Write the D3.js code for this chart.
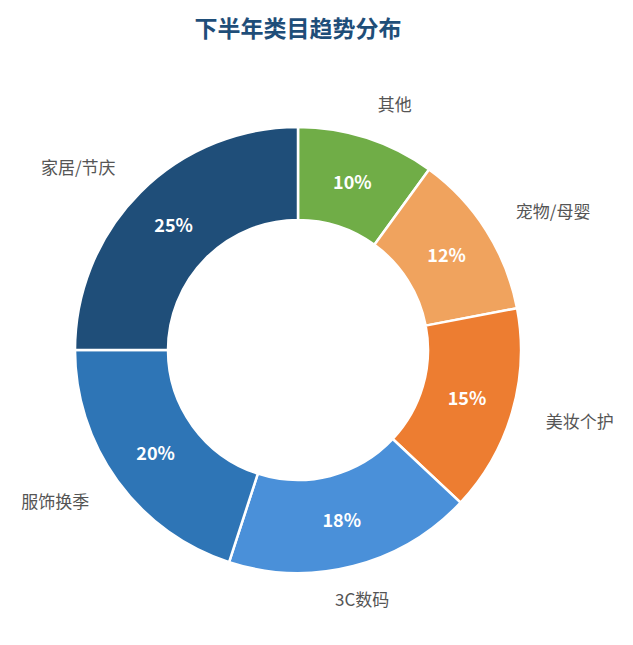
<!DOCTYPE html>
<html><head><meta charset="utf-8">
<script src="https://cdn.jsdelivr.net/npm/d3@7"></script>
<style>body{margin:0;background:#fff}</style></head>
<body><svg id="c" width="633" height="645"></svg>
<script>
const categories = ["其他","宠物/母婴","美妆个护","3C数码","服饰换季","家居/节庆"];
const values = [10,12,15,18,20,25];
const colors = ["#70ad47","#f0a35e","#ed7d31","#4a90d9","#2e75b6","#1f4e79"];
const title = "下半年类目趋势分布";

const svg = d3.select("#c");
const cx = 298, cy = 350, R = 223, r = 130;
const font = "'Noto Sans CJK SC','Noto Sans',sans-serif";
svg.append("text").attr("x",298).attr("y",37).attr("text-anchor","middle")
  .attr("font-family",font).attr("font-size",23).attr("font-weight","bold")
  .attr("fill","#1f4e79").text(title);
const data = categories.map((c,i)=>({c,v:values[i],col:colors[i]}));
const pie = d3.pie().value(d=>d.v).sort(null);
const arc = d3.arc().innerRadius(r).outerRadius(R);
const mid = d3.arc().innerRadius(176).outerRadius(176);
const out = d3.arc().innerRadius(258).outerRadius(258);
const g = svg.append("g").attr("transform",`translate(${cx},${cy})`);
const arcs = pie(data);
g.selectAll("path").data(arcs).join("path").attr("d",arc)
  .attr("fill",d=>d.data.col).attr("stroke","#fff").attr("stroke-width",2.5);
g.selectAll("text.p").data(arcs).join("text").attr("class","p")
  .attr("transform",d=>`translate(${mid.centroid(d)})`).attr("dy","0.35em")
  .attr("text-anchor","middle").attr("font-family",font).attr("font-size",18)
  .attr("font-weight","bold").attr("fill","#fff").text(d=>d.data.v+"%");
g.selectAll("text.l").data(arcs).join("text").attr("class","l")
  .attr("transform",d=>`translate(${out.centroid(d)})`).attr("dy","0.35em")
  .attr("text-anchor",d=>{const a=(d.startAngle+d.endAngle)/2; const x=Math.sin(a); return Math.abs(x)<0.3?"middle":(x>0?"start":"end");})
  .attr("font-family",font).attr("font-size",17).attr("fill","#555").text(d=>d.data.c);
</script></body></html>
